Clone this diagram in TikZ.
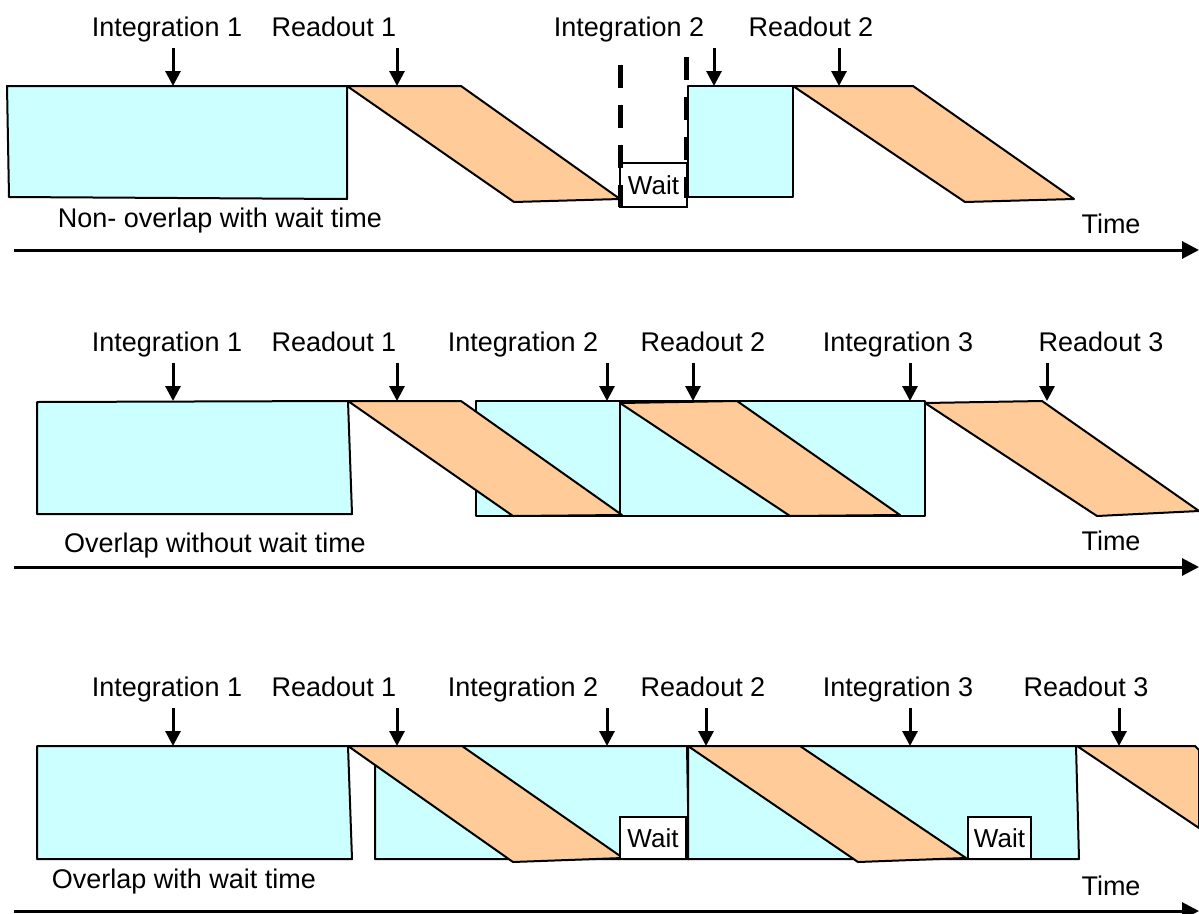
\documentclass[tikz,border=0pt]{standalone}
\usepackage{fontspec}
\setmainfont{Liberation Sans}
\usetikzlibrary{arrows.meta}
\definecolor{integ}{HTML}{CCFFFF}
\definecolor{rdout}{HTML}{FFCC99}
\begin{document}
\begin{tikzpicture}[x=1pt,y=-1pt,
  txt/.style={font=\fontsize{27}{31}\selectfont, inner sep=0pt, anchor=base},
  ib/.style={draw=black, fill=integ, line width=2pt, line join=round},
  rb/.style={draw=black, fill=rdout, line width=2pt, line join=round},
  waitbox/.style={draw=black, fill=white, line width=1.6pt, inner sep=0pt,
    font=\fontsize{26}{30}\selectfont},
  darr/.style={line width=3pt, -{Triangle[length=15pt,width=15pt]}},
  axis/.style={line width=3pt, -{Triangle[length=17pt,width=17pt]}},
  dashline/.style={line width=5pt, dash pattern=on 23pt off 17pt}]
\useasboundingbox (0,0) rectangle (1199,913);

% ---------------- Row 1 ----------------
\node[txt] (r1i1) at (167,36) {Integration 1};
\node[txt] (r1r1) at (334,36) {Readout 1};
\node[txt] (r1i2) at (629,36) {Integration 2};
\node[txt] (r1r2) at (811,36) {Readout 2};

\draw[ib] (7,86) -- (347,86) -- (347,199) -- (9,197) -- cycle;
\draw[rb] (347,86) -- (461,86) -- (620,199) -- (514,202) -- cycle;
\draw[ib] (688,86) rectangle (793,197);
\draw[rb] (793,86) -- (913,86) -- (1074,199) -- (965,202) -- cycle;
\node[waitbox, minimum width=67pt, minimum height=44pt] (r1w) at (653.5,185) {Wait};
\draw[dashline] (620,65) -- (620,207);
\draw[dashline] (686,57) -- (686,198);

\coordinate (r1a1t) at (173,48); \coordinate (r1a1h) at (173,86);
\coordinate (r1a2t) at (397,48); \coordinate (r1a2h) at (397,86);
\coordinate (r1a3t) at (714,48); \coordinate (r1a3h) at (714,86);
\coordinate (r1a4t) at (839,48); \coordinate (r1a4h) at (839,86);
\draw[darr] (r1a1t) -- (r1a1h);
\draw[darr] (r1a2t) -- (r1a2h);
\draw[darr] (r1a3t) -- (r1a3h);
\draw[darr] (r1a4t) -- (r1a4h);

\node[txt] (r1cap) at (220,227) {Non- overlap with wait time};
\node[txt] (r1time) at (1111,233) {Time};
\coordinate (r1s) at (14,250); \coordinate (r1e) at (1199,250);
\draw[axis] (r1s) -- (r1e);

% ---------------- Row 2 ----------------
\node[txt] (r2i1) at (167,351) {Integration 1};
\node[txt] (r2r1) at (334,351) {Readout 1};
\node[txt] (r2i2) at (523,351) {Integration 2};
\node[txt] (r2r2) at (703,351) {Readout 2};
\node[txt] (r2i3) at (898,351) {Integration 3};
\node[txt] (r2r3) at (1101,351) {Readout 3};

\draw[ib] (37,402) -- (348,401) -- (352,514) -- (37,514) -- cycle;
\draw[ib] (476,401) rectangle (620,516);
\draw[ib] (620,401) rectangle (925,516);
\draw[rb] (348,401) -- (461,401) -- (622,515) -- (513,516) -- cycle;
\draw[rb] (620,403) -- (737,401) -- (900,515) -- (790,516) -- cycle;
\draw[rb] (925,403) -- (1042,401) -- (1199,511) -- (1097,516) -- cycle;

\coordinate (r2a1t) at (173,363); \coordinate (r2a1h) at (173,401);
\coordinate (r2a2t) at (397,363); \coordinate (r2a2h) at (397,401);
\coordinate (r2a3t) at (607,363); \coordinate (r2a3h) at (607,401);
\coordinate (r2a4t) at (693,363); \coordinate (r2a4h) at (693,401);
\coordinate (r2a5t) at (910,363); \coordinate (r2a5h) at (910,401);
\coordinate (r2a6t) at (1047,363); \coordinate (r2a6h) at (1047,401);
\draw[darr] (r2a1t) -- (r2a1h);
\draw[darr] (r2a2t) -- (r2a2h);
\draw[darr] (r2a3t) -- (r2a3h);
\draw[darr] (r2a4t) -- (r2a4h);
\draw[darr] (r2a5t) -- (r2a5h);
\draw[darr] (r2a6t) -- (r2a6h);

\node[txt] (r2cap) at (215,552) {Overlap without wait time};
\node[txt] (r2time) at (1111,550) {Time};
\coordinate (r2s) at (14,567); \coordinate (r2e) at (1199,567);
\draw[axis] (r2s) -- (r2e);

% ---------------- Row 3 ----------------
\node[txt] (r3i1) at (167,696) {Integration 1};
\node[txt] (r3r1) at (334,696) {Readout 1};
\node[txt] (r3i2) at (523,696) {Integration 2};
\node[txt] (r3r2) at (703,696) {Readout 2};
\node[txt] (r3i3) at (898,696) {Integration 3};
\node[txt] (r3r3) at (1086,696) {Readout 3};

\draw[ib] (37,746) -- (348,746) -- (352,859) -- (37,859) -- cycle;
\draw[ib] (375,746) -- (687,746) -- (689,859) -- (375,859) -- cycle;
\draw[ib] (688,746) -- (1076,746) -- (1079,859) -- (688,859) -- cycle;
\draw[rb] (348,746) -- (462,746) -- (623,858) -- (513,862) -- cycle;
\draw[rb] (688,746) -- (800,746) -- (966,858) -- (858,862) -- cycle;
\draw[rb] (1077,746) -- (1195,746) -- (1199,750) -- (1199,828) -- cycle;
\node[waitbox, minimum width=66pt, minimum height=42pt] (r3w1) at (653,838) {Wait};
\node[waitbox, minimum width=63pt, minimum height=42pt] (r3w2) at (999.5,838) {Wait};

\coordinate (r3a1t) at (173,708); \coordinate (r3a1h) at (173,746);
\coordinate (r3a2t) at (397,708); \coordinate (r3a2h) at (397,746);
\coordinate (r3a3t) at (607,708); \coordinate (r3a3h) at (607,746);
\coordinate (r3a4t) at (706,708); \coordinate (r3a4h) at (706,746);
\coordinate (r3a5t) at (910,708); \coordinate (r3a5h) at (910,746);
\coordinate (r3a6t) at (1119,708); \coordinate (r3a6h) at (1119,746);
\draw[darr] (r3a1t) -- (r3a1h);
\draw[darr] (r3a2t) -- (r3a2h);
\draw[darr] (r3a3t) -- (r3a3h);
\draw[darr] (r3a4t) -- (r3a4h);
\draw[darr] (r3a5t) -- (r3a5h);
\draw[darr] (r3a6t) -- (r3a6h);

\node[txt] (r3cap) at (184,888) {Overlap with wait time};
\node[txt] (r3time) at (1111,895) {Time};
\coordinate (r3s) at (14,911); \coordinate (r3e) at (1199,911);
\draw[axis] (r3s) -- (r3e);
\end{tikzpicture}
\end{document}
